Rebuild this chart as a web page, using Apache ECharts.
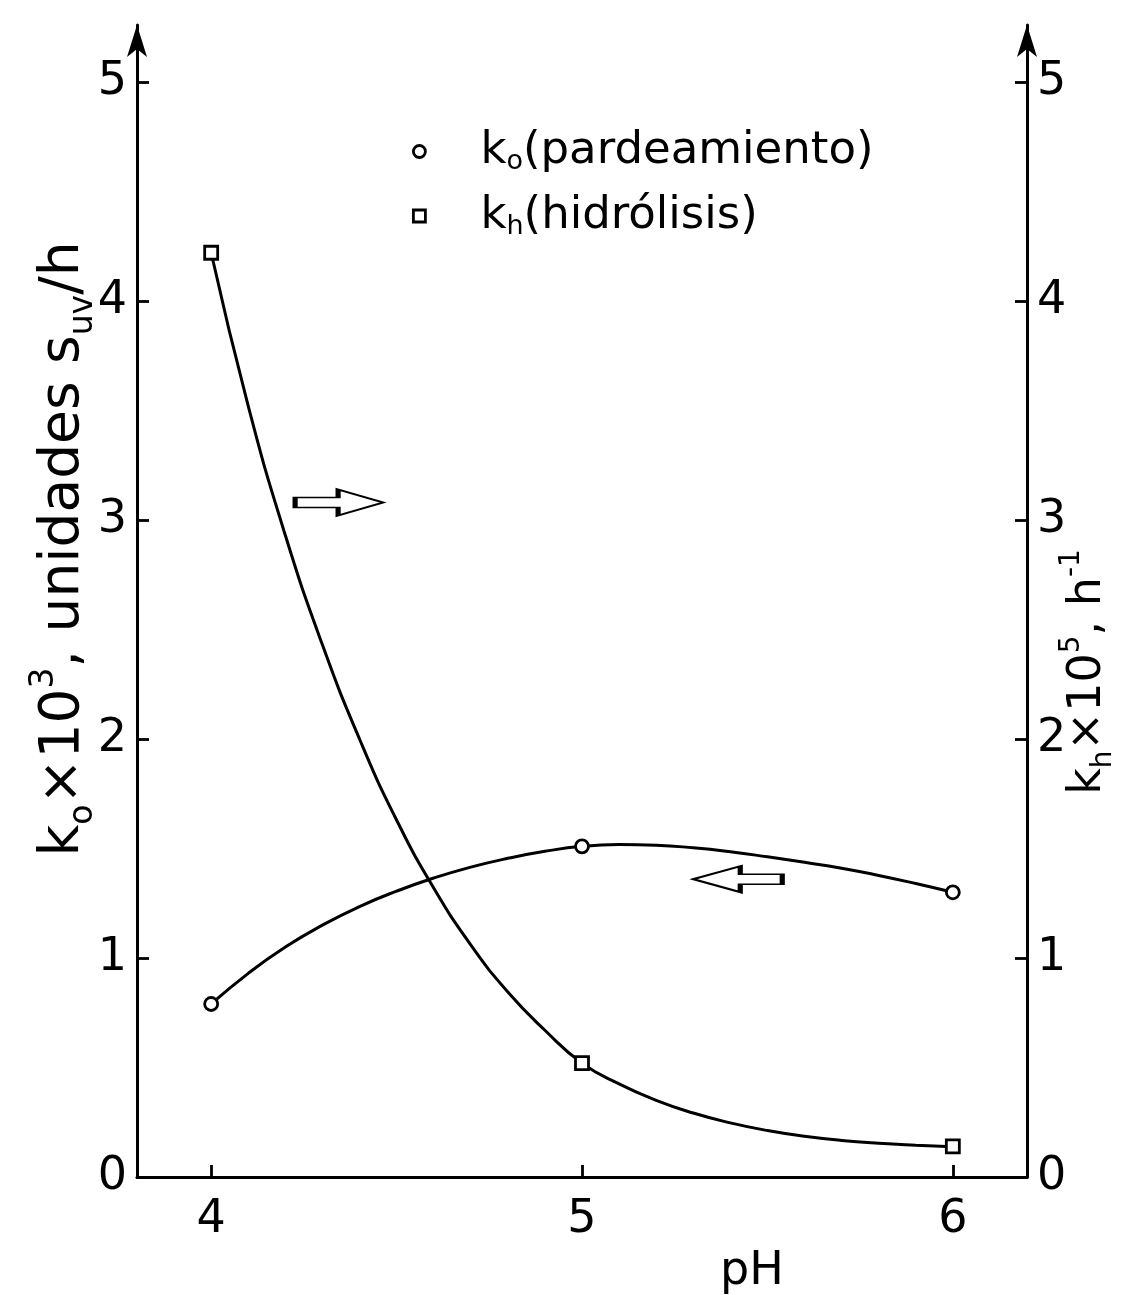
<!DOCTYPE html>
<html lang="es">
<head>
<meta charset="UTF-8">
<title>ko y kh frente al pH</title>
<script src="https://cdn.jsdelivr.net/npm/echarts@6/dist/echarts.min.js"></script>
<style>
  html, body { margin: 0; padding: 0; background: #fff; }
  #main { width: 1133px; height: 1295px; }
</style>
</head>
<body>
<div id="main"></div>
<script>
  // puntos medidos
  const phPoints = [4, 5, 6];
  const koPoints = [0.79, 1.51, 1.30];   // ko x 10^3 (eje izquierdo)
  const khPoints = [4.22, 0.52, 0.14];   // kh x 10^5 (eje derecho)

  // curvas trazadas
  const phCurve = [4.0, 4.1, 4.2, 4.3, 4.4, 4.5, 4.6, 4.7, 4.8, 4.9, 5.0, 5.1, 5.2, 5.3, 5.4, 5.5, 5.6, 5.7, 5.8, 5.9, 6.0];
  const koCurve = [0.79, 0.93, 1.05, 1.15, 1.235, 1.305, 1.365, 1.415, 1.455, 1.487, 1.51, 1.518, 1.515, 1.503, 1.485, 1.462, 1.437, 1.41, 1.377, 1.34, 1.30];
  const khCurve = [4.22, 3.52, 2.93, 2.43, 2.00, 1.63, 1.32, 1.06, 0.845, 0.67, 0.52, 0.425, 0.35, 0.292, 0.247, 0.212, 0.186, 0.167, 0.154, 0.145, 0.138];

  const xTicks = [4, 5, 6];
  const yTicks = [0, 1, 2, 3, 4, 5];

  const FONT = 'DejaVu Sans';
  const INK = '#000';

  function richSet(size, lh) {
    const small = Math.round(size * 0.6);
    return {
      m: { fontSize: size, fontFamily: FONT, color: INK, lineHeight: lh },
      s: { fontSize: small, fontFamily: FONT, color: INK, lineHeight: small, verticalAlign: 'bottom' },
      p: { fontSize: small, fontFamily: FONT, color: INK, lineHeight: small, verticalAlign: 'top' }
    };
  }

  const chart = echarts.init(document.getElementById('main'), null, { renderer: 'canvas' });

  const pairs = (xs, ys) => xs.map((x, i) => [x, ys[i]]);

  // flechas huecas que indican el eje de cada curva
  const arrowRight = 'path://M0 8 L43 8 L43 0 L88 13 L43 26 L43 18 L0 18 Z';
  const arrowLeft = 'path://M0 13 L47 0 L47 8 L89 8 L89 18 L47 18 L47 26 Z';

  const yAxisBase = {
    type: 'value',
    min: 0,
    max: 5.26,
    splitLine: { show: false },
    axisLine: {
      show: true,
      symbol: ['none', 'arrow'],
      symbolSize: [15, 32],
      lineStyle: { color: INK, width: 3 }
    },
    axisTick: { inside: true, length: 12, customValues: yTicks, lineStyle: { color: INK, width: 2.8 } },
    axisLabel: { customValues: yTicks, margin: 10, fontSize: 46, fontFamily: FONT, color: INK }
  };

  const markerStyle = { color: '#fff', borderColor: INK, borderWidth: 2.8, opacity: 1 };

  const option = {
    backgroundColor: '#fff',
    animation: false,
    grid: { left: 137, right: 106, top: 25, bottom: 118 },
    xAxis: {
      type: 'value',
      min: 3.8,
      max: 6.2,
      splitLine: { show: false },
      axisLine: { lineStyle: { color: INK, width: 3 } },
      axisTick: { inside: true, length: 12, customValues: xTicks, lineStyle: { color: INK, width: 2.8 } },
      axisLabel: { customValues: xTicks, margin: 20, fontSize: 46, fontFamily: FONT, color: INK }
    },
    yAxis: [
      Object.assign({ position: 'left' }, yAxisBase),
      Object.assign({ position: 'right' }, yAxisBase)
    ],
    legend: {
      data: ['ko', 'kh'],
      orient: 'vertical',
      left: 407,
      top: 124,
      itemWidth: 12,
      itemHeight: 12,
      itemGap: 18,
      selectedMode: false,
      itemStyle: { opacity: 1, borderWidth: 2.8, borderColor: INK, color: '#fff' },
      textStyle: { padding: [0, 0, 0, 50], rich: richSet(45, 48) },
      formatter: name => name === 'ko'
        ? '{m|k}{s|o}{m|(pardeamiento)}'
        : '{m|k}{s|h}{m|(hidrólisis)}'
    },
    series: [
      {
        name: 'ko curva',
        type: 'line',
        yAxisIndex: 0,
        smooth: 0.5,
        showSymbol: false,
        data: pairs(phCurve, koCurve),
        lineStyle: { color: INK, width: 3 },
        z: 2,
        markPoint: {
          silent: true,
          symbol: arrowLeft,
          symbolSize: [89, 26],
          itemStyle: { color: '#fff', borderColor: INK, borderWidth: 2.8 },
          label: { show: false },
          data: [{ coord: [5.42, 1.36] }]
        }
      },
      {
        name: 'kh curva',
        type: 'line',
        yAxisIndex: 1,
        smooth: 0.5,
        showSymbol: false,
        data: pairs(phCurve, khCurve),
        lineStyle: { color: INK, width: 3 },
        z: 2,
        markPoint: {
          silent: true,
          symbol: arrowRight,
          symbolSize: [88, 26],
          itemStyle: { color: '#fff', borderColor: INK, borderWidth: 2.8 },
          label: { show: false },
          data: [{ coord: [4.345, 3.08] }]
        }
      },
      {
        name: 'ko',
        type: 'scatter',
        yAxisIndex: 0,
        symbol: 'circle',
        symbolSize: 13,
        data: pairs(phPoints, koPoints),
        itemStyle: markerStyle,
        z: 5
      },
      {
        name: 'kh',
        type: 'scatter',
        yAxisIndex: 1,
        symbol: 'rect',
        symbolSize: 13,
        data: pairs(phPoints, khPoints),
        itemStyle: markerStyle,
        z: 5
      }
    ],
    graphic: [
      {
        type: 'text',
        x: 64, y: 549,
        rotation: Math.PI / 2,
        style: {
          text: '{m|k}{s|o}{m|×10}{p|3}{m|, unidades s}{s|uv}{m|/h}',
          rich: richSet(55, 72),
          align: 'center',
          verticalAlign: 'middle'
        }
      },
      {
        type: 'text',
        x: 1088, y: 672,
        rotation: Math.PI / 2,
        style: {
          text: '{m|k}{s|h}{m|×10}{p|5}{m|, h}{p|-1}',
          rich: richSet(46, 60),
          align: 'center',
          verticalAlign: 'middle'
        }
      },
      {
        type: 'text',
        x: 752, y: 1272,
        style: {
          text: 'pH',
          font: '46px "DejaVu Sans"',
          fill: INK,
          align: 'center',
          verticalAlign: 'middle'
        }
      }
    ]
  };

  chart.setOption(option);
</script>
</body>
</html>
